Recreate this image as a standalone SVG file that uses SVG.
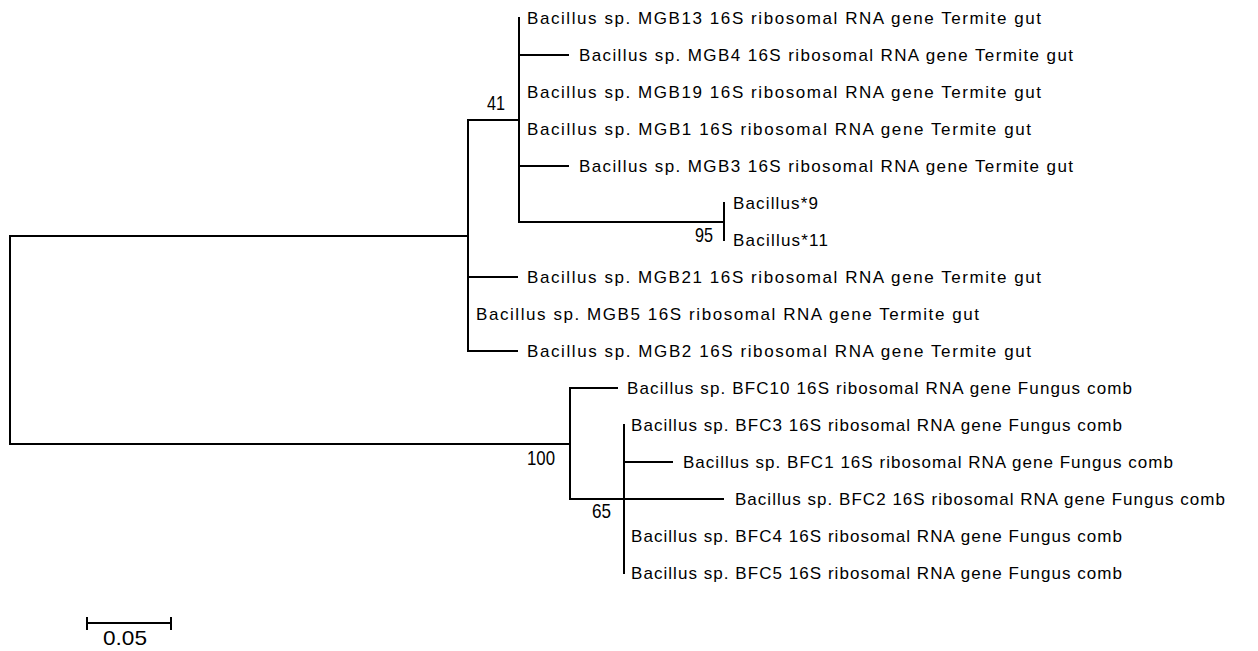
<svg xmlns="http://www.w3.org/2000/svg" width="1258" height="651" viewBox="0 0 1258 651">
<style>
.br{stroke:#000;stroke-width:2;fill:none;stroke-linecap:square}
.lf{font-family:"Liberation Sans",Arial,sans-serif;font-size:17px;fill:#000}
.bs{font-family:"Liberation Sans",Arial,sans-serif;font-size:21px;fill:#000}
</style>
<rect width="1258" height="651" fill="#fff"/>
<g id="connectors">
<path class="br" d="M10,236V444M10,236H468M10,444H570"/>
<path class="br" d="M468,120V351M468,120H519M468,277H517M468,351H517"/>
<path class="br" d="M519,18V222M519,55H568M519,166H568M519,222H724"/>
<path class="br" d="M724,203V240"/>
<path class="br" d="M570,388V499M570,388H617M570,499H723"/>
<path class="br" d="M624,425V573M624,462H672"/>
</g>
<g id="n_root"/>
<g id="n_mgb"/>
<g id="n_mgbsub"><text class="bs" x="487" y="110" textLength="18" lengthAdjust="spacingAndGlyphs">41</text></g>
<g id="n_pair"><text class="bs" x="695" y="242" textLength="18" lengthAdjust="spacingAndGlyphs">95</text></g>
<g id="n_bfc"><text class="bs" x="527" y="465" textLength="28" lengthAdjust="spacingAndGlyphs">100</text></g>
<g id="n_bfcsub"><text class="bs" x="592" y="518" textLength="19" lengthAdjust="spacingAndGlyphs">65</text></g>
<g id="leaf_MGB13"><text class="lf" x="527" y="24" textLength="514" lengthAdjust="spacing">Bacillus sp. MGB13 16S ribosomal RNA gene Termite gut</text></g>
<g id="leaf_MGB4"><text class="lf" x="579" y="61" textLength="494" lengthAdjust="spacing">Bacillus sp. MGB4 16S ribosomal RNA gene Termite gut</text></g>
<g id="leaf_MGB19"><text class="lf" x="527" y="98" textLength="514" lengthAdjust="spacing">Bacillus sp. MGB19 16S ribosomal RNA gene Termite gut</text></g>
<g id="leaf_MGB1"><text class="lf" x="527" y="135" textLength="504" lengthAdjust="spacing">Bacillus sp. MGB1 16S ribosomal RNA gene Termite gut</text></g>
<g id="leaf_MGB3"><text class="lf" x="579" y="172" textLength="494" lengthAdjust="spacing">Bacillus sp. MGB3 16S ribosomal RNA gene Termite gut</text></g>
<g id="leaf_B9"><text class="lf" x="733" y="209" textLength="85" lengthAdjust="spacing">Bacillus*9</text></g>
<g id="leaf_B11"><text class="lf" x="733" y="246" textLength="95" lengthAdjust="spacing">Bacillus*11</text></g>
<g id="leaf_MGB21"><text class="lf" x="527" y="283" textLength="514" lengthAdjust="spacing">Bacillus sp. MGB21 16S ribosomal RNA gene Termite gut</text></g>
<g id="leaf_MGB5"><text class="lf" x="476" y="320" textLength="503" lengthAdjust="spacing">Bacillus sp. MGB5 16S ribosomal RNA gene Termite gut</text></g>
<g id="leaf_MGB2"><text class="lf" x="527" y="357" textLength="504" lengthAdjust="spacing">Bacillus sp. MGB2 16S ribosomal RNA gene Termite gut</text></g>
<g id="leaf_BFC10"><text class="lf" x="627" y="394" textLength="505" lengthAdjust="spacing">Bacillus sp. BFC10 16S ribosomal RNA gene Fungus comb</text></g>
<g id="leaf_BFC3"><text class="lf" x="631" y="431" textLength="491" lengthAdjust="spacing">Bacillus sp. BFC3 16S ribosomal RNA gene Fungus comb</text></g>
<g id="leaf_BFC1"><text class="lf" x="683" y="468" textLength="490" lengthAdjust="spacing">Bacillus sp. BFC1 16S ribosomal RNA gene Fungus comb</text></g>
<g id="leaf_BFC2"><text class="lf" x="735" y="505" textLength="490" lengthAdjust="spacing">Bacillus sp. BFC2 16S ribosomal RNA gene Fungus comb</text></g>
<g id="leaf_BFC4"><text class="lf" x="631" y="542" textLength="491" lengthAdjust="spacing">Bacillus sp. BFC4 16S ribosomal RNA gene Fungus comb</text></g>
<g id="leaf_BFC5"><text class="lf" x="631" y="579" textLength="491" lengthAdjust="spacing">Bacillus sp. BFC5 16S ribosomal RNA gene Fungus comb</text></g>
<g id="scalebar">
<path class="br" d="M87,623H171M87,618V629M171,618V629"/>
<text class="bs" x="103" y="645" textLength="44" lengthAdjust="spacingAndGlyphs">0.05</text>
</g>
</svg>
